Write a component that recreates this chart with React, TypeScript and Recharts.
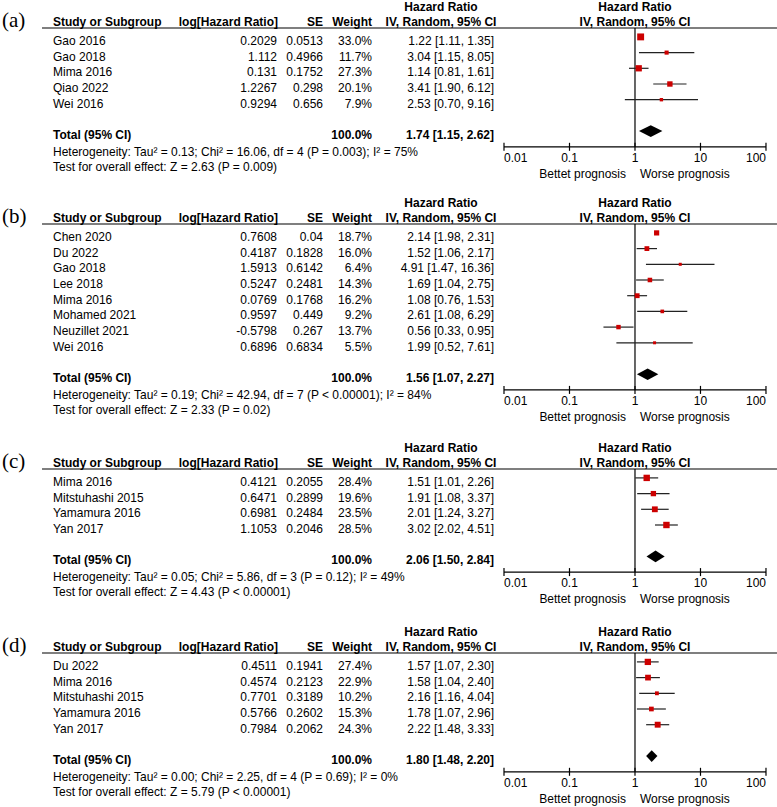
import React from 'react';
import {
  ComposedChart,
  Scatter,
  Area,
  XAxis,
  YAxis,
  ErrorBar,
  ReferenceLine,
  Customized,
} from 'recharts';

const FONT = '"Liberation Sans", Arial, sans-serif';
const SERIF = '"Liberation Serif", "Times New Roman", serif';
const PITCH = 15.7;
const TOP = 30;
const BOTTOM = 36;
const W = 777;

const hrTicks = [0.01, 0.1, 1, 10, 100];
const hrTickText = ['0.01', '0.1', '1', '10', '100'];

// (a)
const studiesA = ['Gao 2016', 'Gao 2018', 'Mima 2016', 'Qiao 2022', 'Wei 2016'];
const logHrA = ['0.2029', '1.112', '0.131', '1.2267', '0.9294'];
const seA = ['0.0513', '0.4966', '0.1752', '0.298', '0.656'];
const weightA = [33.0, 11.7, 27.3, 20.1, 7.9];
const hrA = [1.22, 3.04, 1.14, 3.41, 2.53];
const loA = [1.11, 1.15, 0.81, 1.9, 0.7];
const hiA = [1.35, 8.05, 1.61, 6.12, 9.16];
const totalA = [1.74, 1.15, 2.62];
const hetA = 'Heterogeneity: Tau² = 0.13; Chi² = 16.06, df = 4 (P = 0.003); I² = 75%';
const zA = 'Test for overall effect: Z = 2.63 (P = 0.009)';

// (b)
const studiesB = ['Chen 2020', 'Du 2022', 'Gao 2018', 'Lee 2018', 'Mima 2016', 'Mohamed 2021', 'Neuzillet 2021', 'Wei 2016'];
const logHrB = ['0.7608', '0.4187', '1.5913', '0.5247', '0.0769', '0.9597', '-0.5798', '0.6896'];
const seB = ['0.04', '0.1828', '0.6142', '0.2481', '0.1768', '0.449', '0.267', '0.6834'];
const weightB = [18.7, 16.0, 6.4, 14.3, 16.2, 9.2, 13.7, 5.5];
const hrB = [2.14, 1.52, 4.91, 1.69, 1.08, 2.61, 0.56, 1.99];
const loB = [1.98, 1.06, 1.47, 1.04, 0.76, 1.08, 0.33, 0.52];
const hiB = [2.31, 2.17, 16.36, 2.75, 1.53, 6.29, 0.95, 7.61];
const totalB = [1.56, 1.07, 2.27];
const hetB = 'Heterogeneity: Tau² = 0.19; Chi² = 42.94, df = 7 (P < 0.00001); I² = 84%';
const zB = 'Test for overall effect: Z = 2.33 (P = 0.02)';

// (c)
const studiesC = ['Mima 2016', 'Mitstuhashi 2015', 'Yamamura 2016', 'Yan 2017'];
const logHrC = ['0.4121', '0.6471', '0.6981', '1.1053'];
const seC = ['0.2055', '0.2899', '0.2484', '0.2046'];
const weightC = [28.4, 19.6, 23.5, 28.5];
const hrC = [1.51, 1.91, 2.01, 3.02];
const loC = [1.01, 1.08, 1.24, 2.02];
const hiC = [2.26, 3.37, 3.27, 4.51];
const totalC = [2.06, 1.5, 2.84];
const hetC = 'Heterogeneity: Tau² = 0.05; Chi² = 5.86, df = 3 (P = 0.12); I² = 49%';
const zC = 'Test for overall effect: Z = 4.43 (P < 0.00001)';

// (d)
const studiesD = ['Du 2022', 'Mima 2016', 'Mitstuhashi 2015', 'Yamamura 2016', 'Yan 2017'];
const logHrD = ['0.4511', '0.4574', '0.7701', '0.5766', '0.7984'];
const seD = ['0.1941', '0.2123', '0.3189', '0.2602', '0.2062'];
const weightD = [27.4, 22.9, 10.2, 15.3, 24.3];
const hrD = [1.57, 1.58, 2.16, 1.78, 2.22];
const loD = [1.07, 1.04, 1.16, 1.07, 1.48];
const hiD = [2.3, 2.4, 4.04, 2.96, 3.33];
const totalD = [1.8, 1.48, 2.2];
const hetD = 'Heterogeneity: Tau² = 0.00; Chi² = 2.25, df = 4 (P = 0.69); I² = 0%';
const zD = 'Test for overall effect: Z = 5.79 (P < 0.00001)';

const ci = (h: number, l: number, u: number) =>
  `${h.toFixed(2)} [${l.toFixed(2)}, ${u.toFixed(2)}]`;

function ForestPanel(props: any) {
  const { tag, top, studies, logHr, se, weight, hr, lo, hi, total, het, z } = props;
  const n = studies.length;
  const totalRow = n + 1;
  const yMin = -0.567;
  const yMax = n + 2;
  const plotH = (yMax - yMin) * PITCH;
  const height = TOP + plotH + BOTTOM;
  const axisY = TOP + plotH;

  const points = studies.map((_: string, i: number) => ({
    x: hr[i],
    y: i,
    w: weight[i],
    err: [hr[i] - lo[i], hi[i] - hr[i]],
  }));
  const diamond = [
    { x: total[1], d: [totalRow, totalRow] },
    { x: total[0], d: [totalRow - 0.37, totalRow + 0.37] },
    { x: total[2], d: [totalRow, totalRow] },
  ];
  // one invisible point per table row, used to place the row's text
  const rows = [
    ...studies.map((_: string, i: number) => ({ x: 1, y: i, row: i })),
    { x: 1, y: totalRow, row: -1 },
  ];

  const RowText = (p: any) => {
    const v = p.payload.row;
    const yb = p.cy + 8;
    if (v < 0) {
      return (
        <g fontFamily={FONT} fontSize={12} fontWeight="bold" fill="#000">
          <text x={53} y={yb}>Total (95% CI)</text>
          <text x={372} y={yb} textAnchor="end">100.0%</text>
          <text x={494} y={yb} textAnchor="end">{ci(total[0], total[1], total[2])}</text>
        </g>
      );
    }
    return (
      <g fontFamily={FONT} fontSize={12} fill="#000">
        <text x={53} y={yb}>{studies[v]}</text>
        <text x={277} y={yb} textAnchor="end">{logHr[v]}</text>
        <text x={323} y={yb} textAnchor="end">{se[v]}</text>
        <text x={372} y={yb} textAnchor="end">{weight[v].toFixed(1)}%</text>
        <text x={494} y={yb} textAnchor="end">{ci(hr[v], lo[v], hi[v])}</text>
      </g>
    );
  };

  const HrTick = (p: any) => {
    const i = p.index;
    const anchor = i === 0 ? 'start' : i === hrTicks.length - 1 ? 'end' : 'middle';
    return (
      <g>
        <line x1={p.x} x2={p.x} y1={p.y - 4} y2={p.y + 4} stroke="#000" strokeWidth={1.2} />
        <text x={p.x} y={p.y + 15.3} textAnchor={anchor} fontFamily={FONT} fontSize={12} fill="#000">
          {hrTickText[i]}
        </text>
      </g>
    );
  };

  const Decor = () => (
    <g fontFamily={FONT} fontSize={12} fill="#000">
      <text x={2} y={TOP - 0.6} fontFamily={SERIF} fontSize={21}>({tag})</text>
      <g fontWeight="bold">
        <text x={53} y={TOP - 2}>Study or Subgroup</text>
        <text x={278} y={TOP - 2} textAnchor="end">log[Hazard Ratio]</text>
        <text x={323} y={TOP - 2} textAnchor="end">SE</text>
        <text x={372} y={TOP - 2} textAnchor="end">Weight</text>
        <text x={441} y={TOP - 17.3} textAnchor="middle">Hazard Ratio</text>
        <text x={441} y={TOP - 2} textAnchor="middle">IV, Random, 95% CI</text>
        <text x={635} y={TOP - 17.3} textAnchor="middle">Hazard Ratio</text>
        <text x={635} y={TOP - 2} textAnchor="middle">IV, Random, 95% CI</text>
      </g>
      <line x1={42} x2={W} y1={TOP} y2={TOP} stroke="#000" strokeWidth={1.2} />
      <text x={53} y={axisY + 8.8}>{het}</text>
      <text x={53} y={axisY + 23.8}>{z}</text>
      <text x={626} y={axisY + 31.3} textAnchor="end">Bettet prognosis</text>
      <text x={640} y={axisY + 31.3}>Worse prognosis</text>
    </g>
  );

  return (
    <div style={{ position: 'absolute', left: 0, top, width: W, height }}>
      <ComposedChart
        width={W}
        height={height}
        data={diamond}
        margin={{ top: TOP, right: 11, bottom: 0, left: 504 }}
        style={{ overflow: 'visible' }}
      >
        <XAxis
          dataKey="x"
          type="number"
          scale="log"
          domain={[0.01, 100]}
          ticks={hrTicks}
          interval={0}
          height={BOTTOM}
          axisLine={{ stroke: '#000', strokeWidth: 1.2 }}
          tickLine={false}
          tickSize={0}
          tickMargin={0}
          tick={HrTick}
        />
        <YAxis dataKey="y" type="number" domain={[yMin, yMax]} reversed hide />
        <ReferenceLine x={1} stroke="#000" strokeWidth={1.2} />
        <Area
          dataKey="d"
          type="linear"
          stroke="none"
          fill="#000"
          fillOpacity={1}
          dot={false}
          activeDot={false}
          isAnimationActive={false}
        />
        <Scatter
          data={points}
          isAnimationActive={false}
          shape={(p: any) => {
            const s = Math.max(3, 1.2 * Math.sqrt(p.payload.w));
            return <rect x={p.cx - s / 2} y={p.cy - s / 2} width={s} height={s} fill="#cc0000" />;
          }}
        >
          <ErrorBar dataKey="err" direction="x" width={0} stroke="#222" strokeWidth={1.2} />
        </Scatter>
        <Scatter data={rows} isAnimationActive={false} shape={RowText} />
        <Customized component={<Decor />} />
      </ComposedChart>
    </div>
  );
}

export default function App() {
  return (
    <div style={{ position: 'absolute', left: 0, top: 0, width: W, height: 807, background: '#fff', overflow: 'hidden' }}>
      <ForestPanel tag="a" top={-2.5} studies={studiesA} logHr={logHrA} se={seA} weight={weightA} hr={hrA} lo={loA} hi={hiA} total={totalA} het={hetA} z={zA} />
      <ForestPanel tag="b" top={194} studies={studiesB} logHr={logHrB} se={seB} weight={weightB} hr={hrB} lo={loB} hi={hiB} total={totalB} het={hetB} z={zB} />
      <ForestPanel tag="c" top={439} studies={studiesC} logHr={logHrC} se={seC} weight={weightC} hr={hrC} lo={loC} hi={hiC} total={totalC} het={hetC} z={zC} />
      <ForestPanel tag="d" top={623} studies={studiesD} logHr={logHrD} se={seD} weight={weightD} hr={hrD} lo={loD} hi={hiD} total={totalD} het={hetD} z={zD} />
    </div>
  );
}
